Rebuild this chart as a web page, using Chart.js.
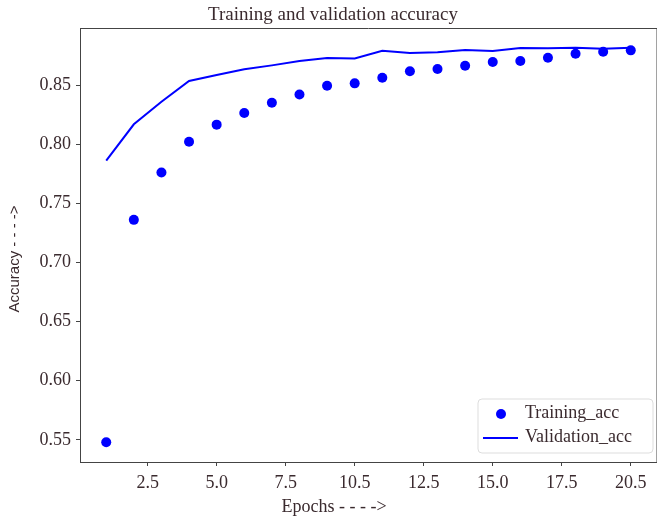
<!DOCTYPE html>
<html>
<head>
<meta charset="utf-8">
<script src="https://cdn.jsdelivr.net/npm/chart.js@4"></script>
<style>
html,body{margin:0;padding:0;overflow:hidden;background:#fff;width:657px;height:516px;}
canvas{display:block;}
</style>
</head>
<body>
<canvas id="c" width="662" height="516"></canvas>
<script>
const epochs = [1,2,3,4,5,6,7,8,9,10,11,12,13,14,15,16,17,18,19,20];
const trainingAcc = [0.548,0.736,0.776,0.802,0.8165,0.8264,0.835,0.842,0.8494,0.8514,0.8562,0.8616,0.8635,0.8663,0.8694,0.8703,0.8731,0.8764,0.8781,0.8793];
const validationAcc = [0.786,0.8168,0.8359,0.8534,0.8584,0.8633,0.8666,0.8703,0.8728,0.8725,0.879,0.877,0.8776,0.8796,0.8787,0.8813,0.881,0.8815,0.8807,0.8815];
const xTickValues = [2.5,5,7.5,10,12.5,15,17.5,20];
const xTickLabels = ["2.5","5.0","7.5","10.5","12.5","15.0","17.5","20.5"];
const yTickValues = [0.55,0.60,0.65,0.70,0.75,0.80,0.85];
const chartTitle = "Training and validation accuracy";
const xTitle = "Epochs - - - ->";
const yTitle = "Accuracy - - - ->";

const textColor = '#3a2a2e';
const spineColor = '#444';
const serif = '"Liberation Serif", "Times New Roman", serif';
const sans = '"Liberation Sans", Arial, sans-serif';

const decor = {
  id: 'decor',
  afterDraw(chart) {
    const ctx = chart.ctx;
    const a = chart.chartArea;
    ctx.save();
    ctx.strokeStyle = spineColor;
    ctx.lineWidth = 1;
    ctx.beginPath();
    ctx.moveTo(a.left, a.top + 0.5);
    ctx.lineTo(a.right, a.top + 0.5);
    ctx.lineTo(a.right, a.bottom);
    ctx.stroke();
    ctx.fillStyle = textColor;
    ctx.textAlign = 'center';
    ctx.textBaseline = 'middle';
    ctx.font = '19px ' + serif;
    ctx.fillText(chartTitle, 333, 15);
    ctx.font = '18px ' + serif;
    ctx.fillText(xTitle, 334, 507);
    ctx.save();
    ctx.translate(15, 259);
    ctx.rotate(-Math.PI / 2);
    ctx.font = '15px ' + sans;
    ctx.fillText(yTitle, 0, 0);
    ctx.restore();
    const bx = 478, by = 399, bw = 175, bh = 54, r = 4;
    ctx.fillStyle = 'rgba(255,255,255,0.8)';
    ctx.strokeStyle = '#dddddd';
    ctx.lineWidth = 1;
    ctx.beginPath();
    ctx.moveTo(bx + r, by);
    ctx.arcTo(bx + bw, by, bx + bw, by + bh, r);
    ctx.arcTo(bx + bw, by + bh, bx, by + bh, r);
    ctx.arcTo(bx, by + bh, bx, by, r);
    ctx.arcTo(bx, by, bx + bw, by, r);
    ctx.closePath();
    ctx.fill();
    ctx.stroke();
    const ds = chart.data.datasets;
    ctx.fillStyle = ds[0].backgroundColor;
    ctx.beginPath();
    ctx.arc(501, 414, 5, 0, Math.PI * 2);
    ctx.fill();
    ctx.strokeStyle = ds[1].borderColor;
    ctx.lineWidth = 2;
    ctx.beginPath();
    ctx.moveTo(483, 438);
    ctx.lineTo(518, 438);
    ctx.stroke();
    ctx.fillStyle = textColor;
    ctx.textAlign = 'left';
    ctx.font = '18px ' + serif;
    ctx.fillText(ds[0].label, 525, 413);
    ctx.fillText(ds[1].label, 525, 437);
    ctx.restore();
  }
};

new Chart(document.getElementById('c'), {
  type: 'scatter',
  data: {
    datasets: [
      {
        label: 'Training_acc',
        data: epochs.map((e, i) => ({x: e, y: trainingAcc[i]})),
        showLine: false,
        pointRadius: 5,
        pointBackgroundColor: '#0000ff',
        backgroundColor: '#0000ff',
        borderColor: '#0000ff',
        pointBorderWidth: 0
      },
      {
        label: 'Validation_acc',
        data: epochs.map((e, i) => ({x: e, y: validationAcc[i]})),
        showLine: true,
        pointRadius: 0,
        borderColor: '#0000ff',
        backgroundColor: '#0000ff',
        borderWidth: 2,
        tension: 0
      }
    ]
  },
  options: {
    responsive: false,
    animation: false,
    layout: {padding: {left: 0, top: 28, right: 1, bottom: 0}},
    plugins: {legend: {display: false}, title: {display: false}, tooltip: {enabled: false}},
    scales: {
      x: {
        type: 'linear',
        min: 0.05,
        max: 20.95,
        afterFit(s) { s.height = 54; },
        afterBuildTicks(s) { s.ticks = xTickValues.map(v => ({value: v})); },
        ticks: {
          color: textColor,
          font: {family: serif, size: 18},
          padding: 6,
          maxRotation: 0,
          autoSkip: false,
          callback: (v, i) => xTickLabels[i]
        },
        grid: {drawOnChartArea: false, drawTicks: true, tickLength: 4, color: spineColor, tickColor: spineColor},
        border: {display: true, color: spineColor, width: 1}
      },
      y: {
        min: 0.5313,
        max: 0.8982,
        afterFit(s) { s.width = 80; },
        afterBuildTicks(s) { s.ticks = yTickValues.map(v => ({value: v})); },
        ticks: {
          color: textColor,
          font: {family: serif, size: 18},
          padding: 5,
          autoSkip: false,
          callback: v => v.toFixed(2)
        },
        grid: {drawOnChartArea: false, drawTicks: true, tickLength: 4, color: spineColor, tickColor: spineColor},
        border: {display: true, color: spineColor, width: 1}
      }
    }
  },
  plugins: [decor]
});
</script>
</body>
</html>
